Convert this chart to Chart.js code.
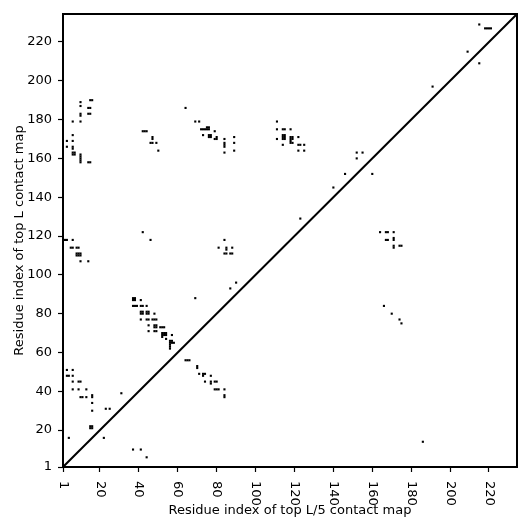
<!DOCTYPE html>
<html>
<head>
<meta charset="utf-8">
<script src="https://cdn.jsdelivr.net/npm/chart.js@4"></script>
<style>
html, body { margin: 0; padding: 0; background: #fff; }
</style>
</head>
<body>
<canvas id="myChart" width="531" height="531"></canvas>
<script>
// contacts as [i, j] residue pairs
// top L map, upper-left triangle
const topL = [
  [10,189],[15,190],[16,190],[10,187],[14,186],[15,186],[10,183],[10,182],[14,183],[15,183],
  [6,179],[10,179],[6,172],[3,169],[6,169],[3,166],[6,166],[6,165],[6,163],[7,163],[6,162],[7,162],
  [10,162],[10,161],[10,160],[10,159],[10,158],[14,158],[15,158],
  [42,174],[43,174],[44,174],[47,171],[47,170],[46,168],[47,168],[49,168],[50,164],[64,186],
  [69,179],[71,179],[72,175],[73,175],[74,175],[75,175],[76,175],[75,176],[76,176],[79,174],
  [73,172],[76,172],[77,172],[76,171],[77,171],[79,170],[80,170],[80,171],[84,170],[89,171],
  [84,168],[84,167],[84,166],[89,168],[84,163],[89,164],
  [111,179],[111,175],[114,175],[115,175],[118,175],[111,170],[114,172],[115,172],[114,171],[115,171],
  [114,170],[115,170],[118,171],[119,171],[118,170],[119,170],[118,169],[122,171],[114,167],[118,168],
  [119,168],[122,167],[123,167],[125,167],[122,164],[125,164],
  [123,129],[140,145],[146,152],[152,163],[155,163],[152,160],[160,152],[191,197],[209,215],[215,229],
  [218,227],[219,227],[220,227],[221,227],
  [2,118],[3,118],[6,118],[5,114],[6,114],[8,114],[9,114],[8,111],[9,111],[10,111],[8,110],[9,110],
  [10,110],[10,107],[14,107],[42,122],[46,118],
  [84,118],[81,114],[85,114],[85,113],[88,114],[84,111],[85,111],[87,111],[88,111],[69,88],[87,93],[90,96],
  [37,88],[38,88],[37,87],[38,87],[41,87],[37,84],[38,84],[39,84],[41,84],[42,84],[44,84],
  [41,81],[42,81],[41,80],[42,80],[44,81],[45,81],[44,80],[45,80],[48,80],
  [41,77],[44,77],[45,77],[47,77],[48,77],[49,77],[45,74],[48,74],[49,74],[48,73],[49,73],
  [51,73],[52,73],[53,73],[45,71],[48,71],[49,71],[52,70],[53,70],[54,70],[52,69],[53,69],[54,69],
  [57,69],[52,68],[54,67],[56,66],[57,66],[56,65],[57,65],[58,65],[56,64],[56,63],[56,62],
  [3,51],[6,51],[3,48],[4,48],[6,48],[6,45],[9,45],[10,45],[6,41],[9,41],[13,41],[10,37],[11,37],
  [13,37],[16,37],[16,38],[16,34],[16,30],[23,31],[25,31],[31,39],[15,21],[16,21],[15,22],[16,22],[4,16]
];

// top L/5 map, lower-right triangle
const topL5 = [
  [22,16],[37,10],[41,10],[44,6],[64,56],[65,56],[66,56],[70,53],[70,52],[71,49],[73,49],[74,49],
  [73,48],[77,48],[74,45],[77,45],[77,44],[79,45],[80,45],[79,41],[80,41],[81,41],[84,41],[84,38],
  [84,37],[166,84],[170,80],[174,77],[175,75],[164,122],[167,122],[168,122],[171,122],[167,118],
  [168,118],[171,118],[171,119],[171,114],[171,115],[174,115],[175,115],[186,14],[215,209]
];

const tickValues = [1, 20, 40, 60, 80, 100, 120, 140, 160, 180, 200, 220];
const axisMin = 1;
const axisMax = 234.4;

const font = { family: 'DejaVu Sans', size: 13 };

// frame round the plot + rotated x tick labels
const framePlugin = {
  id: 'frame',
  afterDraw(chart) {
    const { ctx, chartArea: a } = chart;
    ctx.save();
    ctx.strokeStyle = '#000';
    ctx.lineWidth = 2;
    ctx.strokeRect(a.left, a.top, a.right - a.left, a.bottom - a.top);
    ctx.fillStyle = '#000';
    ctx.font = '13px "DejaVu Sans"';
    ctx.textAlign = 'left';
    ctx.textBaseline = 'middle';
    const xs = chart.scales.x;
    tickValues.forEach(v => {
      ctx.save();
      ctx.translate(xs.getPixelForValue(v), a.bottom + 14);
      ctx.rotate(Math.PI / 2);
      ctx.fillText(String(v), 0, 0);
      ctx.restore();
    });
    ctx.restore();
  }
};

const toPoints = arr => arr.map(p => ({ x: p[0], y: p[1] }));

const data = {
  datasets: [
    {
      type: 'line',
      label: 'diagonal',
      data: [{ x: axisMin, y: axisMin }, { x: axisMax, y: axisMax }],
      borderColor: '#000',
      borderWidth: 2,
      pointRadius: 0
    },
    {
      label: 'top L',
      data: toPoints(topL),
      backgroundColor: '#000',
      borderWidth: 0,
      pointStyle: 'rect',
      pointRadius: 1.5
    },
    {
      label: 'top L/5',
      data: toPoints(topL5),
      backgroundColor: '#000',
      borderWidth: 0,
      pointStyle: 'rect',
      pointRadius: 1.5
    }
  ]
};

const setTicks = s => { s.ticks = tickValues.map(v => ({ value: v })); };

const options = {
  responsive: false,
  animation: false,
  layout: { padding: { top: 14, right: 14, left: 0, bottom: 0 } },
  plugins: { legend: { display: false }, tooltip: { enabled: false } },
  scales: {
    x: {
      type: 'linear',
      min: axisMin,
      max: axisMax,
      afterBuildTicks: setTicks,
      afterFit: s => { s.height = 64; },
      ticks: { display: false },
      grid: { drawOnChartArea: false, drawTicks: true, tickLength: 5, tickColor: '#000', tickWidth: 1.2 },
      border: { display: false },
      title: {
        display: true,
        text: 'Residue index of top L/5 contact map',
        color: '#000',
        font: font,
        padding: { top: 0, bottom: 13 }
      }
    },
    y: {
      type: 'linear',
      min: axisMin,
      max: axisMax,
      afterBuildTicks: setTicks,
      afterFit: s => { s.width = 63; },
      ticks: { color: '#000', font: font, padding: 6, autoSkip: false },
      grid: { drawOnChartArea: false, drawTicks: true, tickLength: 5, tickColor: '#000', tickWidth: 1.2 },
      border: { display: false },
      title: {
        display: true,
        text: 'Residue index of top L contact map',
        color: '#000',
        font: font,
        padding: { top: 12, bottom: 0 }
      }
    }
  }
};

const myChart = new Chart(document.getElementById('myChart'), {
  type: 'scatter',
  data,
  options,
  plugins: [framePlugin]
});
</script>
</body>
</html>
